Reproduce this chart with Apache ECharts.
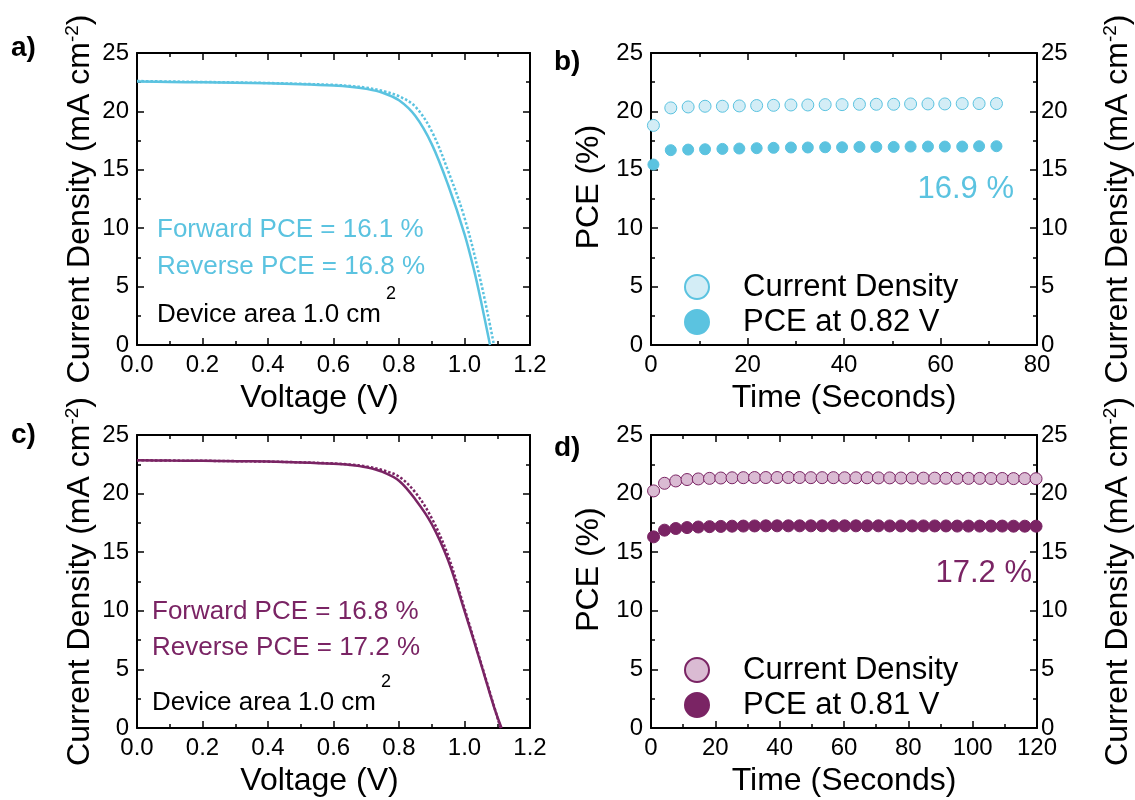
<!DOCTYPE html>
<html>
<head>
<meta charset="utf-8">
<script src="https://cdn.jsdelivr.net/npm/echarts@6/dist/echarts.min.js"></script>
<style>html,body{margin:0;padding:0;background:#fff}#c{width:1135px;height:800px}</style>
</head>
<body>
<div id="c"></div>
<script>
// ---- Panel a: J-V curves (blue device)
const vFwdA = [0, 0.1, 0.2, 0.3, 0.4, 0.5, 0.6, 0.65, 0.7, 0.75, 0.8, 0.85, 0.9, 0.95, 1.0, 1.03, 1.05, 1.078];
const jFwdA = [22.55, 22.52, 22.49, 22.45, 22.40, 22.33, 22.22, 22.12, 21.93, 21.6, 20.95, 19.6, 17.2, 13.7, 9.5, 6.3, 3.8, 0];
const vRevA = [0, 0.1, 0.2, 0.3, 0.4, 0.5, 0.6, 0.65, 0.7, 0.75, 0.8, 0.85, 0.9, 0.95, 1.0, 1.05, 1.09];
const jRevA = [22.6, 22.56, 22.52, 22.48, 22.43, 22.36, 22.27, 22.18, 22.03, 21.75, 21.3, 20.4, 18.3, 14.9, 10.9, 5.4, 0];
// ---- Panel c: J-V curves (purple device)
const vFwdC = [0, 0.1, 0.2, 0.3, 0.4, 0.5, 0.6, 0.65, 0.7, 0.75, 0.8, 0.85, 0.9, 0.95, 1.0, 1.05, 1.09, 1.113];
const jFwdC = [22.85, 22.82, 22.8, 22.77, 22.73, 22.66, 22.55, 22.45, 22.25, 21.85, 21.1, 19.5, 17.4, 14.3, 10.0, 5.5, 1.8, 0];
const vRevC = [0, 0.1, 0.2, 0.3, 0.4, 0.5, 0.6, 0.65, 0.7, 0.75, 0.8, 0.85, 0.9, 0.95, 1.0, 1.05, 1.11];
const jRevC = [22.85, 22.82, 22.8, 22.77, 22.73, 22.67, 22.57, 22.48, 22.32, 22.0, 21.45, 20.1, 17.9, 14.7, 10.2, 5.6, 0];
// ---- Panel b: stabilised output (0.82 V)
const tB = [0.5, 4.1, 7.7, 11.2, 14.8, 18.3, 21.9, 25.4, 29.0, 32.5, 36.1, 39.6, 43.2, 46.7, 50.3, 53.8, 57.4, 60.9, 64.5, 68.0, 71.6];
const jB = [18.8, 20.30, 20.38, 20.44, 20.44, 20.47, 20.50, 20.52, 20.55, 20.55, 20.58, 20.58, 20.61, 20.61, 20.61, 20.64, 20.64, 20.64, 20.67, 20.67, 20.67];
const pceB = [15.45, 16.68, 16.73, 16.76, 16.79, 16.82, 16.85, 16.88, 16.91, 16.91, 16.93, 16.93, 16.96, 16.96, 16.96, 16.99, 16.99, 16.99, 16.99, 17.02, 17.02];
// ---- Panel d: stabilised output (0.81 V)
const tD = [0.8, 4.2, 7.7, 11.2, 14.7, 18.2, 21.7, 25.2, 28.7, 32.2, 35.7, 39.2, 42.7, 46.2, 49.7, 53.2, 56.7, 60.2, 63.7, 67.2, 70.7, 74.2, 77.7, 81.2, 84.7, 88.2, 91.7, 95.2, 98.7, 102.2, 105.7, 109.2, 112.7, 116.2, 119.7];
const jD = [20.23, 20.88, 21.08, 21.2, 21.25, 21.3, 21.33, 21.35, 21.36, 21.37, 21.37, 21.37, 21.37, 21.37, 21.36, 21.36, 21.36, 21.35, 21.35, 21.35, 21.34, 21.34, 21.33, 21.33, 21.32, 21.32, 21.31, 21.31, 21.30, 21.30, 21.29, 21.29, 21.28, 21.28, 21.27];
const pceD = [16.31, 16.88, 17.02, 17.10, 17.15, 17.18, 17.2, 17.22, 17.23, 17.24, 17.25, 17.25, 17.25, 17.25, 17.25, 17.25, 17.25, 17.25, 17.25, 17.25, 17.25, 17.24, 17.24, 17.24, 17.24, 17.24, 17.24, 17.23, 17.23, 17.23, 17.23, 17.23, 17.22, 17.22, 17.22];

const FONT = 'Liberation Sans, Arial, sans-serif';
const BLUE = '#5bc3e0', BLUE_L = '#d3edf6';
const PURP = '#7a2464', PURP_L = '#dabbd3';

const zip = (xs, ys) => xs.map((x, i) => [x, ys[i]]);

const grids = [
  {left: 137, top: 53, width: 393, height: 292},
  {left: 651, top: 53, width: 389, height: 292},
  {left: 137, top: 435, width: 393, height: 293},
  {left: 651, top: 435, width: 389, height: 293}
];

const tickStyle = {show: true, inside: true, length: 7, lineStyle: {color: '#000', width: 1.5}};
const minorStyle = {show: true, splitNumber: 2, length: 4, lineStyle: {color: '#000', width: 1.5}};
const lineStyle = {show: true, onZero: false, lineStyle: {color: '#000', width: 2}};

function xAxes(g, max, interval, fmt, name, shift) {
  return [
    {gridIndex: g, type: 'value', position: 'bottom', min: 0, max: max, interval: interval,
     axisLine: lineStyle, axisTick: tickStyle, minorTick: minorStyle, splitLine: {show: false},
     axisLabel: {color: '#000', fontSize: 24, fontFamily: FONT, margin: 8, formatter: fmt},
     name: name, nameLocation: 'middle', nameGap: 37,
     nameTextStyle: {color: '#000', fontSize: 32, fontFamily: FONT, padding: [0, shift, 0, 0]}},
    {gridIndex: g, type: 'value', position: 'top', min: 0, max: max, interval: interval,
     axisLine: lineStyle, axisTick: tickStyle, minorTick: minorStyle, splitLine: {show: false},
     axisLabel: {show: false}}
  ];
}
const cdName = '{a|Current Density (mA cm}{b|-2}{a|)}';
const cdRich = {a: {fontSize: 32, fontFamily: FONT, color: '#000'}, b: {fontSize: 19, fontFamily: FONT, color: '#000', verticalAlign: 'top', padding: [0, 0, 15, 0]}};
function yAxes(g, leftName, leftGap, rightLabels, lift) {
  return [
    {gridIndex: g, type: 'value', position: 'left', min: 0, max: 25, interval: 5,
     axisLine: lineStyle, axisTick: tickStyle, minorTick: minorStyle, splitLine: {show: false},
     axisLabel: {color: '#000', fontSize: 24, fontFamily: FONT, margin: 8},
     name: leftName, nameLocation: 'middle', nameGap: leftGap, nameRotate: 90,
     nameTextStyle: {color: '#000', fontSize: 32, fontFamily: FONT, rich: cdRich, padding: [0, 0, 0, lift]}},
    {gridIndex: g, type: 'value', position: 'right', min: 0, max: 25, interval: 5,
     axisLine: lineStyle, axisTick: tickStyle, minorTick: minorStyle, splitLine: {show: false},
     axisLabel: {show: rightLabels, color: '#000', fontSize: 24, fontFamily: FONT, margin: 4},
     name: rightLabels ? cdName : '', nameLocation: 'middle', nameGap: 64, nameRotate: 90,
     nameTextStyle: {color: '#000', fontSize: 32, fontFamily: FONT, rich: cdRich}}
  ];
}

const xAxis = [].concat(
  xAxes(0, 1.2, 0.2, v => v.toFixed(1), 'Voltage (V)', 28),
  xAxes(1, 80, 20, v => String(v), 'Time (Seconds)', 0),
  xAxes(2, 1.2, 0.2, v => v.toFixed(1), 'Voltage (V)', 28),
  xAxes(3, 120, 20, v => String(v), 'Time (Seconds)', 0)
);
const yAxis = [].concat(
  yAxes(0, cdName, 40, false, 0),
  yAxes(1, 'PCE (%)', 46, true, 24),
  yAxes(2, cdName, 40, false, 0),
  yAxes(3, 'PCE (%)', 46, true, 24)
);

function jvSeries(g, xs, ys, color, dotted, name) {
  return {type: 'line', name: name, xAxisIndex: 2 * g, yAxisIndex: 2 * g, data: zip(xs, ys),
    showSymbol: false, smooth: 0.35, clip: true, z: dotted ? 3 : 4,
    lineStyle: {color: color, width: 2.5, type: dotted ? [2.5, 2] : 'solid'}};
}
function dotSeries(g, xs, ys, name, fill, border, size) {
  return {type: 'scatter', name: name, xAxisIndex: 2 * g, yAxisIndex: 2 * g, data: zip(xs, ys),
    symbol: 'circle', symbolSize: size,
    itemStyle: {color: fill, borderColor: border, borderWidth: 1, opacity: 1}};
}

const series = [
  jvSeries(0, vRevA, jRevA, BLUE, true, 'Reverse'),
  jvSeries(0, vFwdA, jFwdA, BLUE, false, 'Forward'),
  dotSeries(1, tB, jB, 'Current Density ', BLUE_L, BLUE, 12),
  dotSeries(1, tB, pceB, 'PCE at 0.82 V', BLUE, BLUE, 11),
  jvSeries(2, vRevC, jRevC, PURP, true, 'Reverse c'),
  jvSeries(2, vFwdC, jFwdC, PURP, false, 'Forward c'),
  dotSeries(3, tD, jD, 'Current Density', PURP_L, PURP, 12),
  dotSeries(3, tD, pceD, 'PCE at 0.81 V', PURP, PURP, 12)
];

function legend(top, names) {
  return {show: true, orient: 'vertical', left: 684, top: top, data: names, padding: 0,
    icon: 'circle', itemWidth: 24, itemHeight: 24, itemGap: 4,
    selectedMode: false,
    textStyle: {color: '#000', fontSize: 31, fontFamily: FONT, padding: [0, 0, 0, 29], lineHeight: 24}};
}

function txt(x, y, text, size, color, align, weight) {
  return {type: 'text', x: x, y: y, silent: true,
    style: {text: text, fontSize: size, fontFamily: FONT, fill: color, align: align || 'left', verticalAlign: 'middle', fontWeight: weight || 'normal'}};
}

const graphic = [
  txt(11, 48, 'a)', 28, '#000', 'left', 'bold'),
  txt(554, 62, 'b)', 28, '#000', 'left', 'bold'),
  txt(11, 435, 'c)', 28, '#000', 'left', 'bold'),
  txt(554, 448, 'd)', 28, '#000', 'left', 'bold'),
  txt(157, 230, 'Forward PCE = 16.1 %', 26, BLUE),
  txt(157, 267, 'Reverse PCE = 16.8 %', 26, BLUE),
  txt(157, 315, 'Device area 1.0 cm', 26, '#000'),
  txt(386, 294, '2', 18, '#000'),
  txt(1014, 189, '16.9 %', 31, BLUE, 'right'),
  txt(152, 612, 'Forward PCE = 16.8 %', 26, PURP),
  txt(152, 648, 'Reverse PCE = 17.2 %', 26, PURP),
  txt(152, 703, 'Device area 1.0 cm', 26, '#000'),
  txt(381, 682, '2', 18, '#000'),
  txt(1032, 573, '17.2 %', 31, PURP, 'right')
];

const chart = echarts.init(document.getElementById('c'), null, {renderer: 'canvas'});
chart.setOption({
  animation: false,
  backgroundColor: '#fff',
  grid: grids,
  xAxis: xAxis,
  yAxis: yAxis,
  legend: [legend(271.5, ['Current Density ', 'PCE at 0.82 V']), legend(654.5, ['Current Density', 'PCE at 0.81 V'])],
  series: series,
  graphic: graphic
});
</script>
</body>
</html>
